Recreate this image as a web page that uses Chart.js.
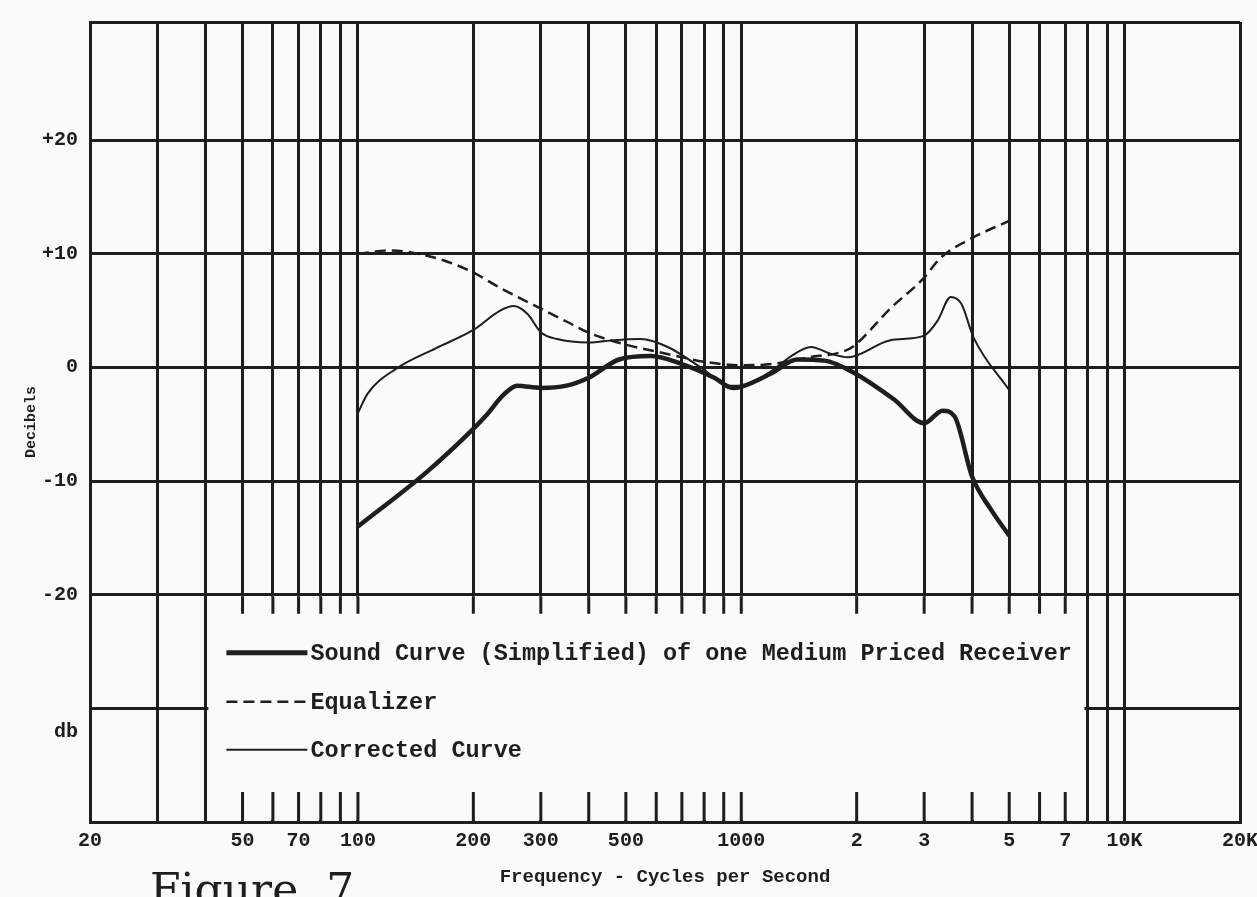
<!DOCTYPE html>
<html>
<head>
<meta charset="utf-8">
<script src="https://cdn.jsdelivr.net/npm/chart.js@4/dist/chart.umd.min.js"></script>
<style>
  html, body { margin:0; padding:0; background:#fafaf8; overflow:hidden; }
  #wrap { position:relative; width:1257px; height:897px; }
  canvas { position:absolute; left:0; top:0; }
  #fig { position:absolute; left:150px; top:868px; font-family:"DejaVu Serif", serif; font-size:44px; line-height:1; color:#1e1e1e; word-spacing:14px; white-space:pre; }
</style>
</head>
<body>
<div id="wrap">
  <canvas id="myChart" width="1257" height="897"></canvas>
  <div id="fig">Figure 7</div>
</div>
<script>
// sound curve (thick)
const soundFreq = [100, 150, 200, 215, 240, 260, 300, 350, 400, 480, 580, 700, 850, 950, 1000, 1200, 1400, 1650, 1950, 2500, 3000, 3350, 3600, 4000, 4500, 5000]
const soundDb   = [-14.0, -9.3, -5.4, -4.3, -2.4, -1.6, -1.8, -1.6, -0.9, 0.7, 1.0, 0.3, -0.9, -1.8, -1.7, -0.5, 0.7, 0.6, -0.4, -2.8, -4.9, -3.8, -4.3, -9.6, -12.6, -14.8]
// equalizer (dashed)
const eqFreq = [100, 121, 157, 196, 235, 287, 352, 404, 500, 600, 700, 800, 1000, 1200, 1500, 1800, 1950, 2450, 3000, 3300, 3900, 5000]
const eqDb   = [10.0, 10.3, 9.7, 8.5, 7.0, 5.5, 4.0, 3.0, 2.0, 1.4, 0.9, 0.5, 0.2, 0.3, 0.9, 1.3, 1.8, 5.2, 7.9, 9.6, 11.2, 12.9]
// corrected curve (thin)
const corrFreq = [100, 106, 126, 160, 200, 235, 255, 277, 300, 331, 400, 464, 546, 643, 784, 930, 1000, 1200, 1350, 1520, 1710, 1900, 2450, 3000, 3250, 3520, 3750, 4040, 5000]
const corrDb   = [-4.0, -2.3, -0.1, 1.7, 3.3, 5.0, 5.4, 4.7, 3.1, 2.5, 2.2, 2.4, 2.5, 1.8, 0.0, -1.6, -1.6, -0.3, 1.0, 1.8, 1.2, 0.9, 2.4, 2.8, 4.1, 6.2, 5.6, 2.6, -2.0]

// grid lines of the log paper
const gridFreq = [20, 30, 40, 50, 60, 70, 80, 90, 100, 200, 300, 400, 500, 600, 700, 800, 900, 1000, 2000, 3000, 4000, 5000, 6000, 7000, 8000, 9000, 10000, 20000]
const labelFreq = [20, 50, 70, 100, 200, 300, 500, 1000, 2000, 3000, 5000, 7000, 10000, 20000]
const labelText = ['20', '50', '70', '100', '200', '300', '500', '1000', '2', '3', '5', '7', '10K', '20K']
const dbTicks = [20, 10, 0, -10, -20, -30, -40]
const dbText  = ['+20', '+10', '0', '-10', '-20', ['', '', 'db'], '']
const dbMin = -40, dbMax = 30.4   // top edge of the sheet sits a bit above +30

const legendLabels = ['Sound Curve (Simplified) of one Medium Priced Receiver', 'Equalizer', 'Corrected Curve']

const ink = '#1e1e1e'
const paper = '#fafaf8'
const mono = "'Liberation Mono', 'DejaVu Sans Mono', monospace"

function pts(xs, ys) {
    return xs.map((f, i) => ({x: f, y: ys[i]}))
}

// white legend panel over the lower grid, with stub ticks, like the printed sheet
const panelPlugin = {
    id: 'panel',
    beforeDatasetsDraw(chart) {
        const ctx = chart.ctx
        const x = chart.scales.x, y = chart.scales.y
        const left = x.getPixelForValue(40) + 3
        const right = x.getPixelForValue(8000) - 3
        const top = y.getPixelForValue(-20) + 2
        const bottom = y.getPixelForValue(-40) - 2
        ctx.save()
        ctx.fillStyle = paper
        ctx.fillRect(left, top, right - left, bottom - top)
        ctx.strokeStyle = ink
        ctx.lineWidth = 3
        gridFreq.filter(f => f > 40 && f < 8000).forEach(f => {
            const px = x.getPixelForValue(f)
            ctx.beginPath()
            ctx.moveTo(px, top); ctx.lineTo(px, top + 17)
            ctx.moveTo(px, bottom - 28); ctx.lineTo(px, bottom + 2)
            ctx.stroke()
        })
        // legend rows
        const rows = [top + 56, top + 105, top + 153]
        chart.data.datasets.forEach((ds) => {
            const ry = rows[ds.legendRow]
            ctx.beginPath()
            ctx.lineWidth = ds.legendWidth
            ctx.setLineDash(ds.borderDash || [])
            ctx.moveTo(left + 18, ry)
            ctx.lineTo(left + 99, ry)
            ctx.stroke()
            ctx.setLineDash([])
            ctx.fillStyle = ink
            ctx.font = 'bold 23.5px ' + mono
            ctx.textBaseline = 'middle'
            ctx.fillText(ds.label, left + 102, ry + 1)
        })
        ctx.restore()
    }
}

var ctx = document.getElementById('myChart').getContext('2d')
var myChart = new Chart(ctx, {
    type: 'line',
    data: {
        datasets: [{
            label: legendLabels[0],
            data: pts(soundFreq, soundDb),
            borderColor: ink,
            borderWidth: 4.5,
            legendWidth: 5,
            legendRow: 0
        }, {
            label: legendLabels[1],
            data: pts(eqFreq, eqDb),
            borderColor: ink,
            borderWidth: 2.5,
            borderDash: [11, 6],
            legendWidth: 2.5,
            legendRow: 1
        }, {
            label: legendLabels[2],
            data: pts(corrFreq, corrDb),
            borderColor: ink,
            borderWidth: 2,
            legendWidth: 2,
            legendRow: 2
        }]
    },
    options: {
        responsive: false,
        animation: false,
        layout: { padding: { top: 22, right: 17, left: 0, bottom: 0 } },
        elements: {
            point: { radius: 0 },
            line: { cubicInterpolationMode: 'monotone', fill: false }
        },
        plugins: {
            legend: { display: false },
            tooltip: { enabled: false }
        },
        scales: {
            x: {
                type: 'logarithmic',
                min: 20,
                max: 20000,
                afterBuildTicks: (scale) => { scale.ticks = gridFreq.map(v => ({value: v})) },
                afterFit: (scale) => {
                    scale.height = 75
                    scale.paddingLeft = 0
                    scale.paddingRight = 0
                },
                grid: { color: ink, lineWidth: 3, drawTicks: false },
                border: { color: ink, width: 3 },
                ticks: {
                    autoSkip: false,
                    maxRotation: 0,
                    padding: 7,
                    color: ink,
                    font: { family: mono, weight: 'bold', size: 20 },
                    callback: (v) => {
                        const k = labelFreq.indexOf(v)
                        return k >= 0 ? labelText[k] : ''
                    }
                },
                title: {
                    display: true,
                    text: 'Frequency - Cycles per Second',
                    color: ink,
                    font: { family: mono, weight: 'bold', size: 19 },
                    padding: { top: 0, bottom: 8 }
                }
            },
            y: {
                min: dbMin,
                max: dbMax,
                afterBuildTicks: (scale) => {
                    scale.ticks = [{value: scale.max}].concat(dbTicks.map(v => ({value: v})))
                },
                afterFit: (scale) => {
                    scale.width = 90
                    scale.paddingTop = 0
                    scale.paddingBottom = 0
                },
                grid: { color: ink, lineWidth: 3, drawTicks: false },
                border: { color: ink, width: 3 },
                ticks: {
                    padding: 12,
                    color: ink,
                    font: { family: mono, weight: 'bold', size: 20 },
                    callback: (v) => {
                        const k = dbTicks.indexOf(v)
                        return k >= 0 ? dbText[k] : ''
                    }
                },
                title: {
                    display: true,
                    text: 'Decibels',
                    color: ink,
                    font: { family: mono, weight: 'bold', size: 15 },
                    padding: { top: 22, bottom: 0 }
                }
            }
        }
    },
    plugins: [panelPlugin]
})
</script>
</body>
</html>
